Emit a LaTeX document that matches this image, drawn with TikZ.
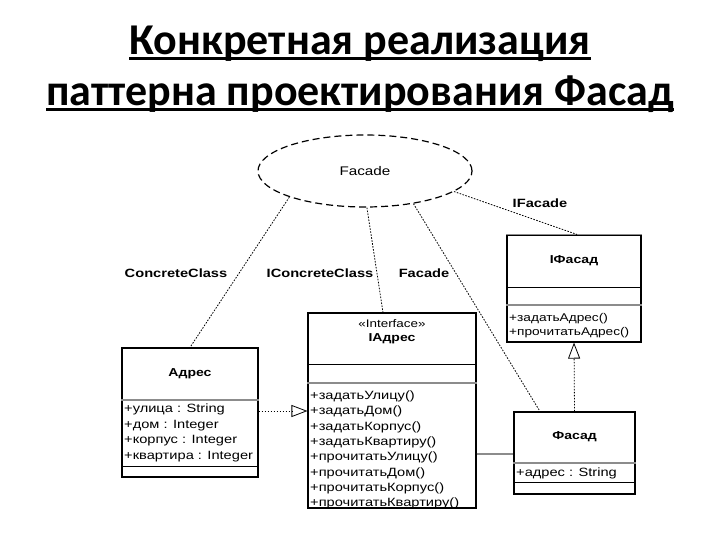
\documentclass[tikz,border=0pt]{standalone}
\usepackage{fontspec}
\setmainfont{Liberation Sans}
\newfontfamily\titlefont{Carlito}
\newfontfamily\dfont[FakeStretch=1.22]{Liberation Sans}
\usetikzlibrary{shapes.geometric,arrows.meta}
\tikzset{
  cls/.style={draw, line width=1.1pt, inner sep=0pt},
  sepline/.style={line width=0.9pt},
  gsep/.style={line width=1.4pt, draw=black!45},
  lbl/.style={inner sep=0pt, font=\dfont\bfseries\fontsize{12}{14}\selectfont},
  cname/.style={inner sep=0pt, font=\dfont\bfseries\fontsize{11.5}{13}\selectfont},
  attr/.style={anchor=base west, inner sep=0pt, font=\dfont\fontsize{12}{14}\selectfont},
  sattr/.style={attr, font=\dfont\fontsize{11.2}{13}\selectfont},
  conn/.style={dash pattern=on 1.6pt off 1.4pt, line width=0.8pt},
  real/.style={conn, -{Triangle[open, length=16pt, width=12pt, line width=0.8pt]}},
  ttl/.style={anchor=base, inner sep=0pt, font=\titlefont\bfseries\fontsize{44}{48}\selectfont},
  uline/.style={line width=2.8pt}
}
\begin{document}
\begin{tikzpicture}[x=1pt,y=-1pt]
\useasboundingbox[fill=white] (0,0) rectangle (720,540);
% title
\node[ttl] (t1) at (360,55) {Конкретная реализация};
\node[ttl] (t2) at (360,106) {паттерна проектирования Фасад};
\draw[uline] ([yshift=-3.5pt]t1.base west) -- ([yshift=-3.5pt]t1.base east);
\draw[uline] ([yshift=-3.5pt]t2.base west) -- ([yshift=-3.5pt]t2.base east);
% ellipse
\node[ellipse, draw, line width=1.2pt, dash pattern=on 7pt off 4pt, minimum width=214pt, minimum height=72pt, inner sep=0pt, font=\dfont\fontsize{12.5}{14}\selectfont] (fac) at (365,171) {Facade};
% classes
\node[cls, minimum width=134pt, minimum height=107pt] (ifasad) at (574,288.5) {};
\node[cls, minimum width=136pt, minimum height=129pt] (adres) at (190,412.5) {};
\node[cls, minimum width=168pt, minimum height=195pt] (iadres) at (392,410.5) {};
\node[cls, minimum width=121pt, minimum height=82pt] (fasad) at (574.5,453) {};
% compartments
\draw[gsep] (ifasad.north west) -- (ifasad.north east);
\draw[sepline] (ifasad.west |- 0,287) -- (ifasad.east |- 0,287);
\draw[gsep] (ifasad.west |- 0,305) -- (ifasad.east |- 0,305);
\draw[gsep] (adres.west |- 0,400) -- (adres.east |- 0,400);
\draw[sepline] (adres.west |- 0,466) -- (adres.east |- 0,466);
\draw[sepline] (iadres.west |- 0,364) -- (iadres.east |- 0,364);
\draw[gsep] (iadres.west |- 0,383) -- (iadres.east |- 0,383);
\draw[gsep] (fasad.west |- 0,463) -- (fasad.east |- 0,463);
\draw[sepline] (fasad.west |- 0,482) -- (fasad.east |- 0,482);
% names
\node[cname] (n1) at (574,261) {IФасад};
\node[cname] (n2) at (190,374) {Адрес};
\node[inner sep=0pt, font=\dfont\fontsize{11}{12}\selectfont] (n3s) at (392,324) {«Interface»};
\node[cname] (n3) at (392,338.5) {IАдрес};
\node[cname] (n4) at (574.5,437) {Фасад};
% attributes / operations
\node[sattr] (a1) at (509,321) {+задатьАдрес()};
\node[sattr] (a2) at (509,335.5) {+прочитатьАдрес()};
\node[attr] (b1) at (124,412.5) {+улица : String};
\node[attr] (b2) at (124,428) {+дом : Integer};
\node[attr] (b3) at (124,443.5) {+корпус : Integer};
\node[attr] (b4) at (124,459) {+квартира : Integer};
\node[attr] (c1) at (310,399.5) {+задатьУлицу()};
\node[attr] (c2) at (310,414.8) {+задатьДом()};
\node[attr] (c3) at (310,430.1) {+задатьКорпус()};
\node[attr] (c4) at (310,445.4) {+задатьКвартиру()};
\node[attr] (c5) at (310,460.7) {+прочитатьУлицу()};
\node[attr] (c6) at (310,476) {+прочитатьДом()};
\node[attr] (c7) at (310,491.3) {+прочитатьКорпус()};
\node[attr] (c8) at (310,506.6) {+прочитатьКвартиру()};
\node[attr] (d1) at (516,476) {+адрес : String};
% connectors
\draw[conn] (fac.199) -- (190,0 |- adres.north);
\draw[conn] (fac.273) -- (383,0 |- iadres.north);
\draw[conn] (fac.326) -- (540,0 |- fasad.north);
\draw[conn] (fac.347) -- (577,0 |- ifasad.north);
\draw[real] (fasad.north) -- (ifasad.south);
\draw[real] (adres.east |- 0,411) -- (iadres.west |- 0,411);
\draw[line width=2pt, draw=black!45] (iadres.east |- 0,454) -- (fasad.west |- 0,454);
% labels
\node[lbl] (l1) at (176,273) {ConcreteClass};
\node[lbl] (l2) at (320,273) {IConcreteClass};
\node[lbl] (l3) at (424,273) {Facade};
\node[lbl] (l4) at (540,203) {IFacade};
\end{tikzpicture}
\end{document}
